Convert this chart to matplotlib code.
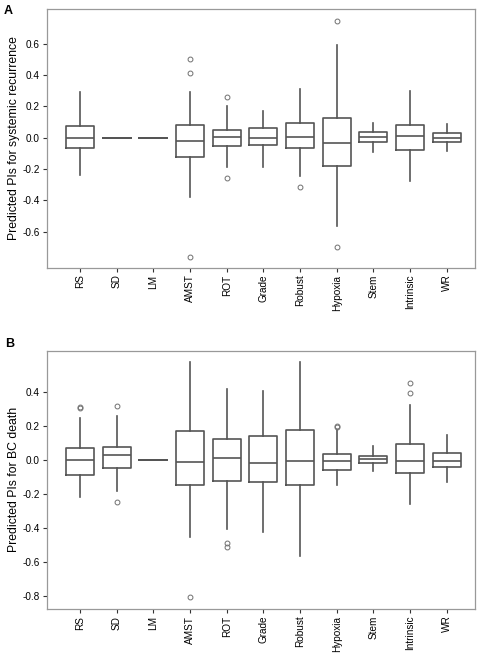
import matplotlib.pyplot as plt

categories = ['RS', 'SD', 'LM', 'AMST', 'ROT', 'Grade', 'Robust', 'Hypoxia', 'Stem', 'Intrinsic', 'WR']

# Panel A: systemic recurrence  (whislo, q1, med, q3, whishi)
a_whislo = [-0.236, 0.0, 0.0, -0.381, -0.189, -0.189, -0.243, -0.562, -0.091, -0.277, -0.083]
a_q1 = [-0.068, 0.0, 0.0, -0.121, -0.055, -0.049, -0.068, -0.179, -0.030, -0.079, -0.030]
a_med = [-0.002, 0.0, 0.0, -0.023, 0.002, -0.004, 0.004, -0.032, 0.002, 0.009, -0.002]
a_q3 = [0.077, 0.0, 0.0, 0.083, 0.051, 0.064, 0.094, 0.128, 0.038, 0.079, 0.032]
a_whishi = [0.289, 0.0, 0.0, 0.289, 0.202, 0.168, 0.313, 0.591, 0.091, 0.298, 0.089]
a_fliers = [[], [], [], [0.50, 0.413, -0.76], [0.257, -0.26], [], [-0.313],
            [0.745, -0.696], [], [], []]

# Panel B: BC death
b_whislo = [-0.214, -0.178, 0.0, -0.451, -0.404, -0.424, -0.565, -0.145, -0.063, -0.259, -0.125]
b_q1 = [-0.084, -0.045, 0.0, -0.145, -0.122, -0.127, -0.143, -0.057, -0.018, -0.075, -0.039]
b_med = [0.0, 0.029, 0.0, -0.008, 0.012, -0.014, -0.004, -0.006, 0.008, -0.006, -0.006]
b_q3 = [0.073, 0.078, 0.0, 0.171, 0.124, 0.141, 0.176, 0.037, 0.024, 0.094, 0.045]
b_whishi = [0.251, 0.259, 0.0, 0.578, 0.420, 0.406, 0.578, 0.180, 0.084, 0.325, 0.147]
b_fliers = [[0.316, 0.310], [0.322, -0.243], [], [-0.806], [-0.484, -0.508], [], [],
            [0.202, 0.198], [], [0.453, 0.394], []]

line_col = '#555555'
frame_col = '#999999'
plt.rcParams['font.family'] = ['Liberation Sans', 'DejaVu Sans']


def make_stats(whislo, q1, med, q3, whishi, fliers):
    stats = []
    for i in range(len(categories)):
        stats.append(dict(whislo=whislo[i], q1=q1[i], med=med[i], q3=q3[i],
                          whishi=whishi[i], fliers=fliers[i], label=categories[i]))
    return stats


def draw_panel(ax, stats, ylabel, yticks, ylim):
    ax.bxp(stats, positions=range(1, len(categories) + 1), widths=0.76,
           showcaps=False,
           boxprops=dict(color=line_col, linewidth=1.2),
           medianprops=dict(color=line_col, linewidth=1.2),
           whiskerprops=dict(color=line_col, linewidth=1.2),
           flierprops=dict(marker='o', markersize=3.5, markerfacecolor='none',
                           markeredgecolor='#707070', markeredgewidth=0.7))
    ax.set_xlim(0.09, 11.77)
    ax.set_ylim(*ylim)
    ax.set_yticks(yticks)
    ax.set_yticklabels([f'{t:.1f}' for t in yticks])
    ax.set_xticks(range(1, len(categories) + 1))
    ax.set_xticklabels(categories, rotation=90)
    ax.set_ylabel(ylabel, fontsize=8.8, labelpad=2)
    ax.tick_params(axis='both', labelsize=7.2, length=3, width=0.8, color='#333333', pad=2)
    for s in ax.spines.values():
        s.set_color(frame_col)
        s.set_linewidth(0.9)


fig = plt.figure(figsize=(4.83, 6.56), dpi=100)
axA = fig.add_axes([0.0967, 0.592, 0.8867, 0.3938])
axB = fig.add_axes([0.0967, 0.0721, 0.8867, 0.3933])

draw_panel(axA, make_stats(a_whislo, a_q1, a_med, a_q3, a_whishi, a_fliers),
           'Predicted PIs for systemic recurrence',
           [-0.6, -0.4, -0.2, 0.0, 0.2, 0.4, 0.6], (-0.83, 0.82))
draw_panel(axB, make_stats(b_whislo, b_q1, b_med, b_q3, b_whishi, b_fliers),
           'Predicted PIs for BC death',
           [-0.8, -0.6, -0.4, -0.2, 0.0, 0.2, 0.4], (-0.873, 0.645))

fig.text(0.008, 0.992, 'A', fontsize=9, fontweight='bold', va='top', ha='left')
fig.text(0.01, 0.485, 'B', fontsize=9, fontweight='bold', va='top', ha='left')

fig.savefig('out.png', dpi=100)
